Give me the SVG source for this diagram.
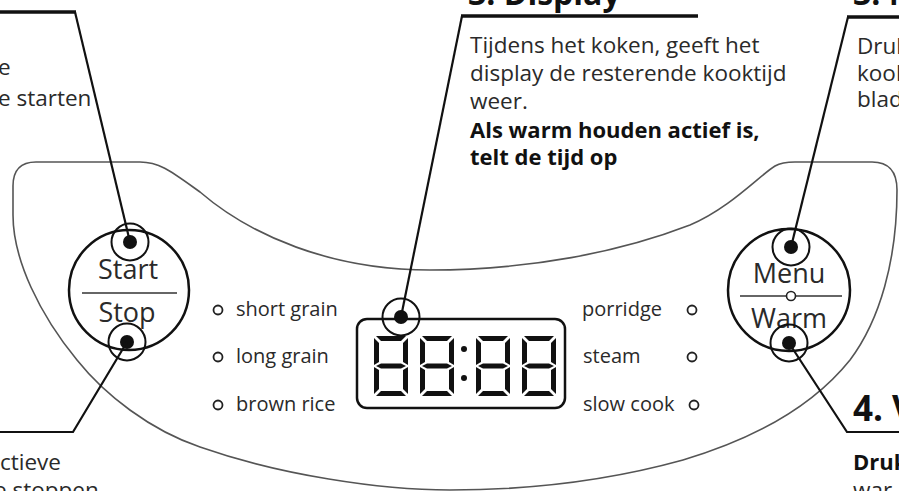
<svg xmlns="http://www.w3.org/2000/svg" width="899" height="491" viewBox="0 0 899 491">
<style>
  .txt{font-family:"Open Sans","Noto Sans","Liberation Sans",sans-serif;fill:#2a2a2a;}
  .body{font-size:22.5px;}
  .b{font-weight:bold;fill:#111;}
  .bb{font-size:22px;}
  .lbl{font-size:20px;}
  .btn{font-size:27px;}
  .lead{fill:none;stroke:#111;stroke-width:2.2;stroke-linejoin:miter;}
  .head{fill:none;stroke:#111;stroke-width:3.5;}
  .panel{fill:none;stroke:#555;stroke-width:1.6;}
  .ring{fill:none;stroke:#111;stroke-width:2;}
  .dot{fill:#111;}
  .led{fill:none;stroke:#222;stroke-width:1.8;}
  .seg{fill:#111;}
</style>
<defs>
  <g id="digit">
    <polygon class="seg" points="2,0 32,0 27,5 7,5"/>
    <polygon class="seg" points="0,2 5,7 5,26 0,29"/>
    <polygon class="seg" points="34,2 34,29 29,26 29,7"/>
    <polygon class="seg" points="2,30 7,27.5 27,27.5 32,30 27,32.5 7,32.5"/>
    <polygon class="seg" points="0,31 5,34 5,53 0,58"/>
    <polygon class="seg" points="34,31 34,58 29,53 29,34"/>
    <polygon class="seg" points="2,60 7,55 27,55 32,60"/>
  </g>
</defs>

<g id="panel">
  <path class="panel" d="M 36,162 H 140 C 160,162 172,172 200,192 C 250,235 330,270 430,270 C 530,270 620,252 690,225 C 730,208 760,175 775,166 Q 782,162 795,162 H 872 Q 897,162 897,190 C 897,260 880,320 850,360 C 810,410 750,440 683,460 C 600,483 520,490 450,490 C 380,490 280,475 200,447 C 150,430 105,395 77,360 C 40,315 13,260 13,215 V 186 Q 13,162 36,162 Z"/>
</g>

<g id="start-stop">
  <circle cx="129" cy="290" r="60" fill="none" stroke="#111" stroke-width="2.5"/>
  <line x1="82" y1="293" x2="177" y2="293" stroke="#333" stroke-width="1.6"/>
  <text class="txt btn" x="128" y="279" text-anchor="middle">Start</text>
  <text class="txt btn" x="127" y="322" text-anchor="middle">Stop</text>
</g>

<g id="menu-warm">
  <circle cx="789" cy="290" r="61" fill="none" stroke="#111" stroke-width="2.5"/>
  <line x1="740" y1="296" x2="842" y2="296" stroke="#333" stroke-width="1.6"/>
  <circle cx="791" cy="296" r="4.5" fill="#fff" stroke="#222" stroke-width="1.6"/>
  <text class="txt btn" x="789" y="283" text-anchor="middle">Menu</text>
  <text class="txt btn" x="789" y="328" text-anchor="middle">Warm</text>
</g>

<g id="display">
  <rect x="357" y="319" width="208" height="89" rx="10" fill="none" stroke="#111" stroke-width="2.5"/>
  <use href="#digit" x="374" y="336"/>
  <use href="#digit" x="420" y="336"/>
  <circle class="dot" cx="464" cy="349" r="3"/>
  <circle class="dot" cx="464" cy="378" r="3"/>
  <use href="#digit" x="476" y="336"/>
  <use href="#digit" x="522" y="336"/>
</g>

<g id="programs-left">
  <circle class="led" cx="218" cy="310" r="4.5"/>
  <text class="txt lbl" x="236" y="316">short grain</text>
  <circle class="led" cx="218" cy="357" r="4.5"/>
  <text class="txt lbl" x="236" y="363">long grain</text>
  <circle class="led" cx="218" cy="405" r="4.5"/>
  <text class="txt lbl" x="236" y="411">brown rice</text>
</g>

<g id="programs-right">
  <text class="txt lbl" x="582" y="316">porridge</text>
  <circle class="led" cx="692" cy="310" r="4.5"/>
  <text class="txt lbl" x="583" y="363">steam</text>
  <circle class="led" cx="692" cy="357" r="4.5"/>
  <text class="txt lbl" x="583" y="411">slow cook</text>
  <circle class="led" cx="694" cy="405" r="4.5"/>
</g>

<g id="markers">
  <circle class="ring" cx="130" cy="242" r="18.5"/>
  <circle class="dot" cx="130" cy="242" r="7"/>
  <circle class="ring" cx="127" cy="342" r="18.5"/>
  <circle class="dot" cx="127" cy="342" r="7"/>
  <circle class="ring" cx="401" cy="317" r="18.5"/>
  <circle class="dot" cx="401" cy="317" r="7"/>
  <circle class="ring" cx="791" cy="247" r="18.5"/>
  <circle class="dot" cx="791" cy="247" r="7"/>
  <circle class="ring" cx="789" cy="343" r="18.5"/>
  <circle class="dot" cx="789" cy="343" r="7"/>
</g>

<g id="connectors">
  <line class="head" x1="0" y1="12" x2="76" y2="12"/>
  <line class="lead" x1="75" y1="12" x2="130" y2="242"/>
  <line class="head" x1="461" y1="16" x2="698" y2="16"/>
  <line class="lead" x1="462" y1="16" x2="401" y2="317"/>
  <line class="head" x1="847" y1="17" x2="899" y2="17"/>
  <line class="lead" x1="848" y1="17" x2="791" y2="247"/>
  <polyline class="lead" points="127,342 73,432 0,432"/>
  <polyline class="lead" points="789,343 847,432 899,432"/>
</g>

<g id="note-start">
  <text class="txt body" x="-2" y="75">e</text>
  <text class="txt body" x="-2" y="106">e starten</text>
</g>

<g id="note-display">
  <text class="txt b" x="468" y="5" font-size="32">3. Display</text>
  <text class="txt body" x="470" y="53">Tijdens het koken, geeft het</text>
  <text class="txt body" x="470" y="81">display de resterende kooktijd</text>
  <text class="txt body" x="470" y="109">weer.</text>
  <text class="txt bb b" x="470" y="138">Als warm houden actief is,</text>
  <text class="txt bb b" x="470" y="165">telt de tijd op</text>
</g>

<g id="note-menu">
  <text class="txt b" x="853" y="5" font-size="32">3. M</text>
  <text class="txt body" x="857" y="54">Druk</text>
  <text class="txt body" x="857" y="81">kook</text>
  <text class="txt body" x="857" y="107">blad</text>
</g>

<g id="note-warm">
  <text class="txt b" x="853" y="421" font-size="35">4. V</text>
  <text class="txt bb b" x="853" y="470">Druk</text>
  <text class="txt body" x="853" y="498">war</text>
</g>

<g id="note-stop">
  <text class="txt body" x="0" y="470">ctieve</text>
  <text class="txt body" x="-6" y="498">e stoppen</text>
</g>
</svg>
